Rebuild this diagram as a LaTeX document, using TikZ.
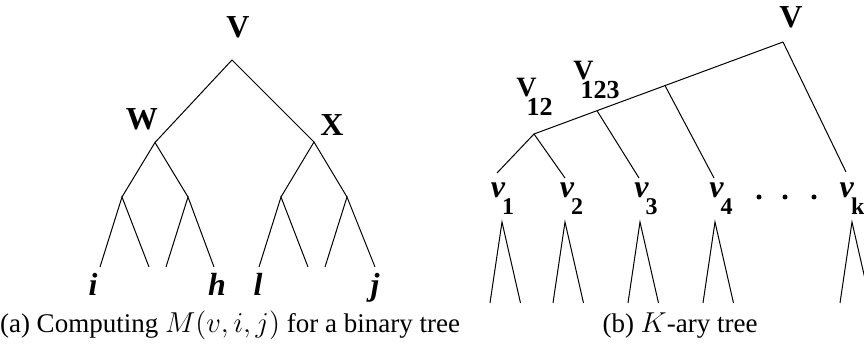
\documentclass[tikz,border=0pt]{standalone}
\usepackage{fontspec}
\setmainfont{Liberation Serif}

% low, overlapping subscripts as in the original figure
\newcommand{\vsub}[1]{\textit{v}\kern-1.5pt\raisebox{-8.5pt}{\fontsize{12}{12}\selectfont#1}}
\newcommand{\Vsub}[2]{V\kern#2\raisebox{-9.5pt}{\fontsize{13}{13}\selectfont#1}}

\begin{document}
\begin{tikzpicture}[x=0.5pt,y=-0.5pt,line width=0.5pt,
    every node/.style={inner sep=0pt,anchor=base},
    lbl/.style={font=\fontsize{16}{16}\selectfont\bfseries},
    leaf/.style={font=\fontsize{16}{16}\selectfont\bfseries\itshape},
    captext/.style={font=\fontsize{13.5}{16}\selectfont}]
  \clip (0,0) rectangle (864,347);

  % (a) binary tree
  \coordinate (a) at (232,60);
  \coordinate (w) at (155,142.5);
  \coordinate (x) at (314,142);
  \coordinate (w1) at (122,197);
  \coordinate (w2) at (188,197);
  \coordinate (x1) at (281,197);
  \coordinate (x2) at (347,197);
  \foreach \n/\px in {1/100,2/149,3/166,4/214,5/259,6/308,7/325,8/375}
    \coordinate (l\n) at (\px,267);
  \draw (w) -- (a) -- (x);
  \draw (w1) -- (w) -- (w2);
  \draw (x1) -- (x) -- (x2);
  \draw (l1) -- (w1) -- (l2);
  \draw (l3) -- (w2) -- (l4);
  \draw (l5) -- (x1) -- (l6);
  \draw (l7) -- (x2) -- (l8);

  \node[lbl] (vtop) at (238,38) {V};
  \node[lbl] (wlbl) at (142,130) {W};
  \node[lbl] (xlbl) at (332,136) {X};
  \node[leaf] (i) at (93,296) {i};
  \node[leaf] (h) at (217,296) {h};
  \node[leaf] (l) at (258,296) {l};
  \node[leaf] (j) at (375,296) {j};
  \node[captext] (capa) at (230,333) {(a) Computing $M(v,i,j)$ for a binary tree};

  % (b) K-ary tree
  \coordinate (r) at (783,42);
  \coordinate (r3) at (665,85.6);
  \coordinate (r2) at (597,110.7);
  \coordinate (r1) at (534,134);
  \coordinate (b1) at (497,173);
  \coordinate (b2) at (565,178);
  \coordinate (b3) at (639,178);
  \coordinate (b4) at (714,178);
  \coordinate (bk) at (846,172);
  \draw (r1) -- (r2) -- (r3) -- (r);
  \draw (b1) -- (r1) -- (b2);
  \draw (r2) -- (b3);
  \draw (r3) -- (b4);
  \draw (r) -- (bk);
  \foreach \n/\px in {1/502,2/565,3/640,4/715,k/852}{
    \coordinate (t\n) at (\px,222);
    \coordinate (t\n l) at (\px-12,303);
    \coordinate (t\n r) at (\px+18.5,303);
    \draw (t\n l) -- (t\n) -- (t\n r);
  }

  \node[lbl] (vroot) at (791,28) {V};
  \node[lbl,font=\fontsize{14}{14}\selectfont\bfseries] (v12) at (534.5,97) {\Vsub{12}{-5pt}};
  \node[lbl,font=\fontsize{14}{14}\selectfont\bfseries] (v123) at (596.5,80) {\Vsub{123}{-6.5pt}};
  \node[lbl] (v1) at (502.5,198) {\vsub{1}};
  \node[lbl] (v2) at (571.5,198) {\vsub{2}};
  \node[lbl] (v3) at (646,198) {\vsub{3}};
  \node[lbl] (v4) at (721,198) {\vsub{4}};
  \node[lbl] (vk) at (852,198) {\vsub{k}};
  \foreach \px in {759,785,814}
    \fill (\px,197) circle (2.5);
  \node[captext] (capb) at (680,333) {(b) $K$-ary tree};
\end{tikzpicture}
\end{document}
